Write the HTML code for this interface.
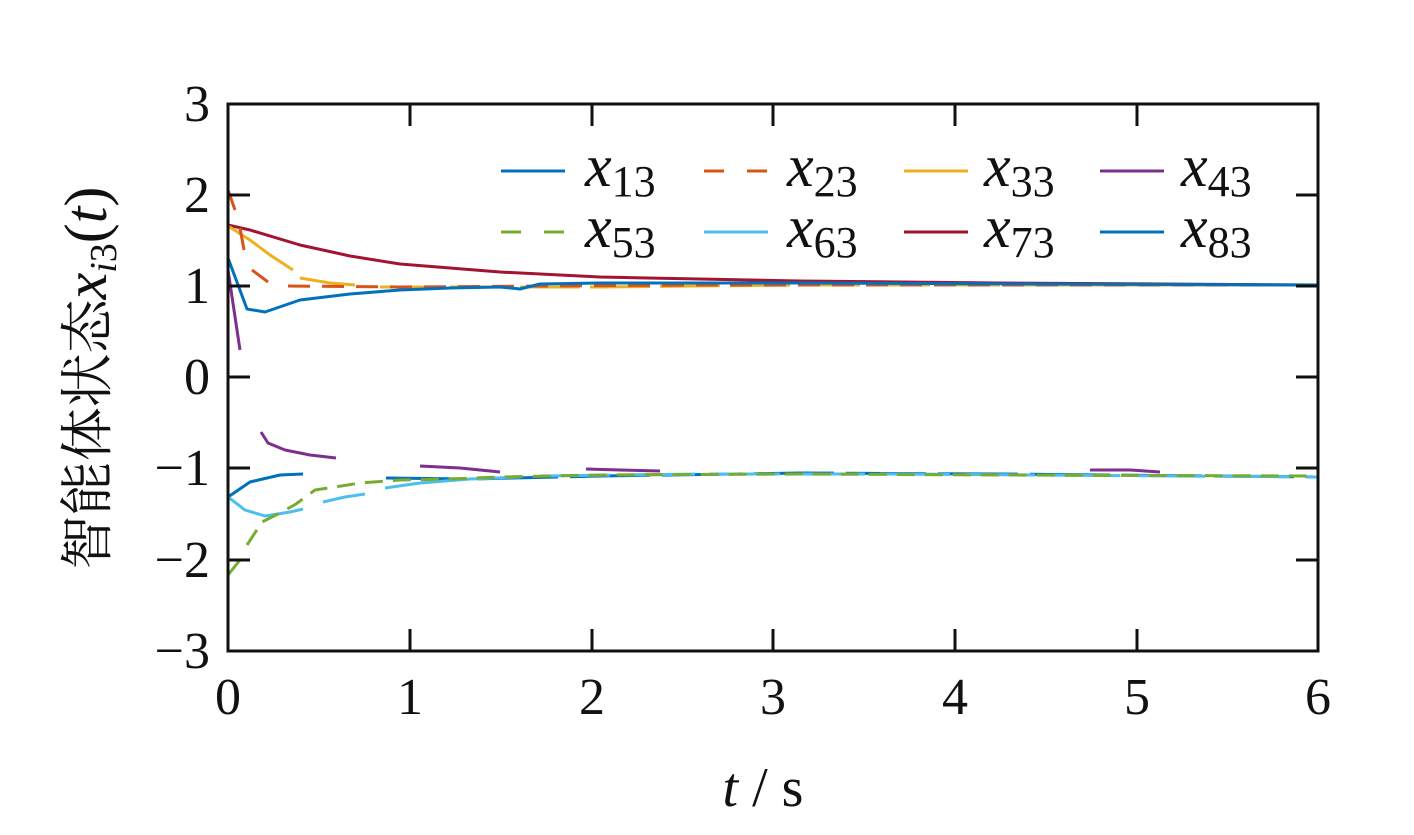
<!DOCTYPE html>
<html><head><meta charset="utf-8"><style>
body{margin:0;background:#fff;}
svg{display:block;}
text{font-family:"Liberation Serif","Times New Roman",serif;fill:#111;}
.cjk{font-family:"Noto Serif CJK SC","Noto Sans CJK SC",serif;}
</style></head><body>
<svg width="1414" height="835" viewBox="0 0 1414 835" xmlns="http://www.w3.org/2000/svg">
<g fill="none" stroke-width="3" stroke-linejoin="round" stroke-linecap="butt">
<polyline stroke="#a2142f" points="228,225 250,230 300,245 350,256 400,264 500,272 600,277 800,281 1000,283 1318,285"/>
<polyline stroke="#edb120" points="228,226 250,240 270,255 293,270"/>
<polyline stroke="#edb120" points="300,278 330,283 355,285"/>
<polyline stroke="#edb120" stroke-dasharray="60,10" points="380,287 600,287 800,285 1318,285"/>
<polyline stroke="#d95319" points="228,190 235,210"/>
<polyline stroke="#d95319" points="240,228 244,250"/>
<polyline stroke="#d95319" points="252,270 268,282"/>
<polyline stroke="#d95319" stroke-dasharray="22,12" points="288,286 400,287 550,286 700,285 1318,285"/>
<polyline stroke="#0072bd" points="228,258 247,309 265,312 300,300 350,294 400,290 450,288 500,287 520,289 540,284 600,283 800,283 1318,285"/>
<polyline stroke="#7e2f8e" points="228,270 240,350"/>
<polyline stroke="#7e2f8e" points="261,432 268,443 285,450 310,455 336,458"/>
<polyline stroke="#7e2f8e" points="420,466 460,468 500,472"/>
<polyline stroke="#7e2f8e" points="586,469 620,470 660,471"/>
<polyline stroke="#7e2f8e" points="1090,470 1130,470 1160,472"/>
<polyline stroke="#0072bd" points="228,497 250,482 280,475 303,474"/>
<polyline stroke="#0072bd" stroke-dasharray="80,12" points="386,478 470,479 600,476 800,473 1000,474 1318,477"/>
<polyline stroke="#4dbeee" points="228,497 245,510 265,516 290,512 303,509"/>
<polyline stroke="#4dbeee" points="323,502 345,497 365,494"/>
<polyline stroke="#4dbeee" points="385,488 420,483 470,479 520,477"/>
<polyline stroke="#4dbeee" stroke-dasharray="70,15" points="540,476 700,474 900,474 1318,477"/>
<polyline stroke="#77ac30" points="228,575 240,560"/>
<polyline stroke="#77ac30" stroke-dasharray="18,10" points="247,545 262,522 280,513 296,504 315,490 335,487 360,483 400,480 450,479 500,477 600,475 800,474 1000,475 1318,476"/>
</g>
<rect x="228" y="104" width="1090" height="547" fill="none" stroke="#111" stroke-width="3"/>
<g stroke="#111" stroke-width="3">
<line x1="228" y1="195" x2="250" y2="195"/><line x1="228" y1="286" x2="250" y2="286"/><line x1="228" y1="377" x2="250" y2="377"/><line x1="228" y1="468" x2="250" y2="468"/><line x1="228" y1="560" x2="250" y2="560"/>
<line x1="1318" y1="195" x2="1296" y2="195"/><line x1="1318" y1="286" x2="1296" y2="286"/><line x1="1318" y1="377" x2="1296" y2="377"/><line x1="1318" y1="468" x2="1296" y2="468"/><line x1="1318" y1="560" x2="1296" y2="560"/>
<line x1="410" y1="651" x2="410" y2="629"/><line x1="592" y1="651" x2="592" y2="629"/><line x1="773" y1="651" x2="773" y2="629"/><line x1="955" y1="651" x2="955" y2="629"/><line x1="1137" y1="651" x2="1137" y2="629"/>
<line x1="410" y1="104" x2="410" y2="126"/><line x1="592" y1="104" x2="592" y2="126"/><line x1="773" y1="104" x2="773" y2="126"/><line x1="955" y1="104" x2="955" y2="126"/><line x1="1137" y1="104" x2="1137" y2="126"/>
</g>
<g font-size="52" text-anchor="end">
<text x="210" y="121">3</text><text x="210" y="212">2</text><text x="210" y="303">1</text><text x="210" y="394">0</text>
<text x="210" y="485">−1</text><text x="210" y="577">−2</text><text x="210" y="668">−3</text>
</g>
<g font-size="52" text-anchor="middle">
<text x="228" y="714">0</text><text x="410" y="714">1</text><text x="592" y="714">2</text><text x="773" y="714">3</text><text x="955" y="714">4</text><text x="1137" y="714">5</text><text x="1318" y="714">6</text>
</g>
<text x="763" y="806" font-size="56" text-anchor="middle"><tspan font-style="italic">t</tspan> / s</text>
<text transform="translate(106,378) rotate(-90)" font-size="58" text-anchor="middle"><tspan class="cjk" font-size="54">智能体状态</tspan><tspan font-style="italic" font-size="60">x</tspan><tspan font-style="italic" font-size="38" dy="10">i</tspan><tspan font-size="38">3</tspan><tspan dy="-10" font-size="60">(</tspan><tspan font-style="italic" font-size="60">t</tspan><tspan font-size="60">)</tspan></text>
<g stroke-width="3">
<line x1="501" y1="171" x2="565" y2="171" stroke="#0072bd"/>
<line x1="704" y1="171" x2="768" y2="171" stroke="#d95319" stroke-dasharray="20,23"/>
<line x1="904" y1="171" x2="968" y2="171" stroke="#edb120"/>
<line x1="1100" y1="171" x2="1164" y2="171" stroke="#7e2f8e"/>
<line x1="501" y1="232" x2="565" y2="232" stroke="#77ac30" stroke-dasharray="20,23"/>
<line x1="704" y1="232" x2="768" y2="232" stroke="#4dbeee"/>
<line x1="904" y1="232" x2="968" y2="232" stroke="#a2142f"/>
<line x1="1100" y1="232" x2="1164" y2="232" stroke="#0072bd"/>
</g>
<g font-size="60">
<text x="585" y="186"><tspan font-style="italic">x</tspan><tspan font-size="44" dy="10">13</tspan></text>
<text x="787" y="186"><tspan font-style="italic">x</tspan><tspan font-size="44" dy="10">23</tspan></text>
<text x="984" y="186"><tspan font-style="italic">x</tspan><tspan font-size="44" dy="10">33</tspan></text>
<text x="1181" y="186"><tspan font-style="italic">x</tspan><tspan font-size="44" dy="10">43</tspan></text>
<text x="585" y="247"><tspan font-style="italic">x</tspan><tspan font-size="44" dy="10">53</tspan></text>
<text x="787" y="247"><tspan font-style="italic">x</tspan><tspan font-size="44" dy="10">63</tspan></text>
<text x="984" y="247"><tspan font-style="italic">x</tspan><tspan font-size="44" dy="10">73</tspan></text>
<text x="1181" y="247"><tspan font-style="italic">x</tspan><tspan font-size="44" dy="10">83</tspan></text>
</g>
</svg>
</body></html>
